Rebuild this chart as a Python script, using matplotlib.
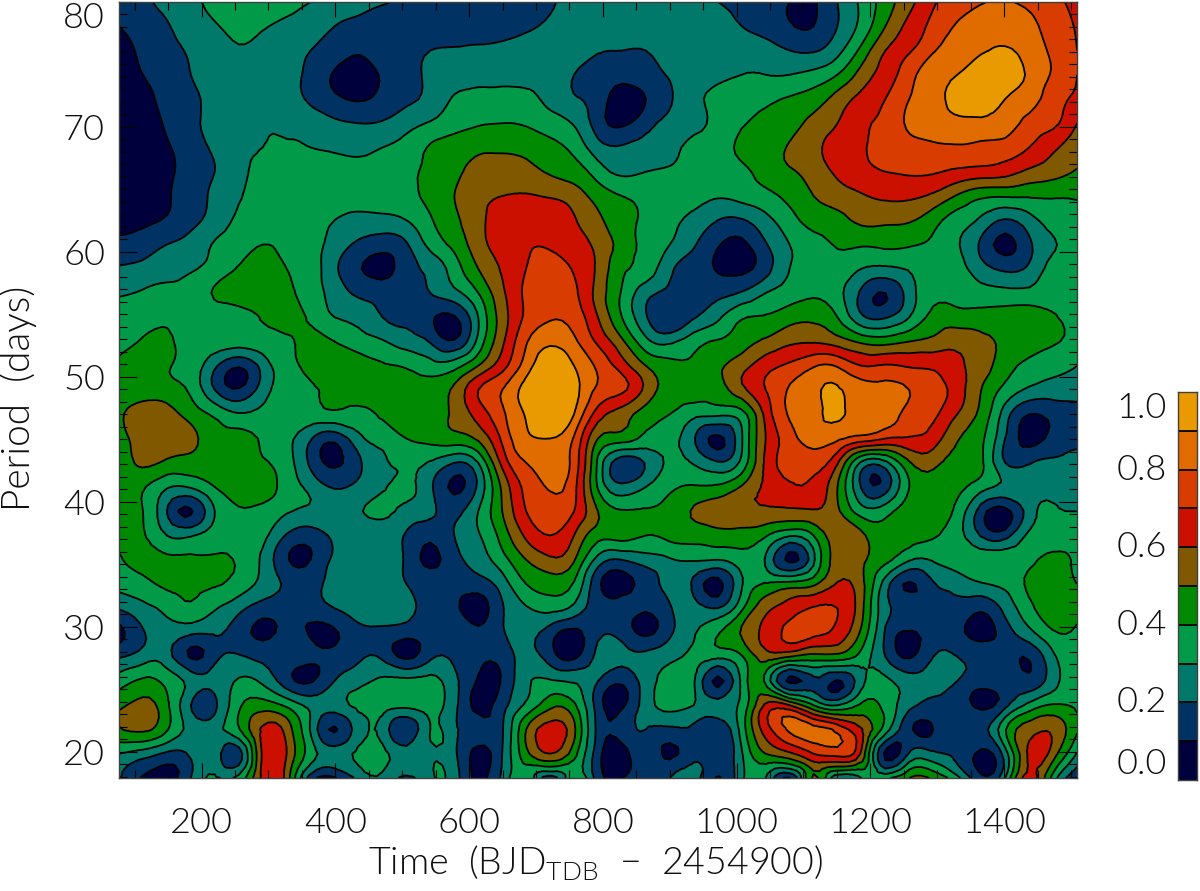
import numpy as np
import matplotlib
matplotlib.use('Agg')
import matplotlib.pyplot as plt
import matplotlib.tri as mtri
from matplotlib.ticker import MultipleLocator

plt.rcParams['font.family'] = ['Lato', 'DejaVu Sans']
plt.rcParams['mathtext.fontset'] = 'custom'
plt.rcParams['mathtext.rm'] = 'Lato:weight=300'

# grid of wavelet power, in percent, top row is period 80
power_pct = [
    [12,17,24,28,33,38,37,33,30,27,24,21,18,16,15,15,15,16,19,23,25,25,26,26,25,20,17,14,10,9,20,32,45,57,69,74,79,81,77,73,66],
    [10,14,19,25,29,33,31,28,25,20,17,15,14,14,14,14,15,18,22,25,25,25,26,27,27,26,20,16,11,10,20,33,50,63,73,81,86,88,83,76,69],
    [6,12,17,21,25,29,27,24,20,15,11,14,16,20,21,22,23,25,26,26,21,20,20,25,28,28,27,24,20,19,27,43,60,69,79,86,89,91,86,78,70],
    [4,10,15,20,24,26,26,24,17,9,6,11,16,22,25,27,27,27,26,20,14,14,16,21,26,28,30,30,30,33,40,54,65,76,87,90,97,98,88,79,70],
    [3,7,13,18,23,26,26,25,18,12,9,13,18,23,31,33,34,33,27,21,15,5,10,19,27,33,35,38,41,45,54,63,70,80,87,94,98,90,84,75,68],
    [3,6,11,17,24,27,29,28,26,22,20,21,26,31,36,39,40,39,35,29,15,8,16,23,27,33,39,42,46,53,60,68,73,82,86,87,87,85,77,72,60],
    [3,5,9,15,22,28,30,31,30,29,28,30,34,41,45,48,48,47,43,37,24,21,24,27,33,36,42,45,51,57,65,69,74,76,78,79,78,76,70,62,55],
    [3,4,8,14,20,27,33,34,34,33,33,34,38,42,48,53,55,53,49,45,35,28,30,31,34,37,38,44,49,54,62,67,70,71,71,68,66,64,58,54,49],
    [3,5,9,15,22,29,34,35,35,34,34,35,37,43,50,57,60,61,59,55,46,40,37,34,33,31,33,37,43,50,55,59,62,62,58,49,42,41,41,41,41],
    [6,8,11,17,24,32,35,36,33,30,27,27,30,39,48,57,65,68,68,61,52,44,38,33,27,20,19,27,36,44,47,52,52,51,44,35,28,19,26,34,37],
    [13,15,20,24,31,36,40,38,34,26,18,14,19,33,43,56,64,69,69,65,57,46,37,30,21,11,8,19,30,35,41,41,42,41,38,31,18,7,18,29,35],
    [21,23,26,29,34,41,45,40,35,22,11,7,15,23,35,50,61,70,75,69,58,42,36,22,15,9,8,16,30,33,36,30,28,31,35,34,24,18,22,34,35],
    [29,31,33,35,41,45,48,43,35,26,18,15,14,20,27,40,58,72,77,72,56,39,24,17,14,17,21,30,35,38,33,18,10,25,37,37,34,33,33,36,37],
    [34,36,38,38,36,37,41,45,38,30,27,20,18,12,9,30,55,72,79,76,60,40,21,10,19,28,39,41,46,48,40,22,19,30,43,44,44,45,45,41,37],
    [37,41,42,36,35,35,36,38,44,40,35,31,25,19,11,33,58,79,88,82,68,52,33,28,36,41,46,52,58,59,55,48,46,50,53,57,53,48,44,41,37],
    [41,43,41,35,22,11,24,36,43,46,44,41,39,34,36,50,66,85,97,90,78,65,50,43,42,48,56,66,72,79,79,70,71,69,68,62,55,44,38,34,30],
    [42,44,44,38,20,11,25,35,39,42,44,45,45,46,52,70,80,94,100,94,78,72,57,46,44,46,57,70,81,88,91,85,83,80,75,65,50,37,28,25,24],
    [47,57,55,46,38,31,33,33,36,38,37,42,47,46,52,64,78,91,100,90,65,55,45,40,33,32,36,63,81,88,91,88,85,77,72,60,47,25,10,13,16],
    [44,56,57,53,44,43,39,33,21,13,27,33,40,43,46,52,72,88,90,79,50,45,37,33,21,8,29,60,76,85,82,76,70,69,65,51,42,20,7,13,17],
    [42,52,48,46,44,43,41,34,18,8,18,29,31,29,20,30,63,80,86,76,38,14,21,32,29,21,33,62,73,74,61,28,27,49,53,47,42,20,19,22,24],
    [41,41,31,31,40,44,45,36,27,19,23,29,32,22,8,22,52,73,81,73,39,23,30,38,41,42,51,62,69,68,50,19,15,40,46,43,34,28,27,26,27],
    [42,40,20,9,30,39,37,31,28,26,29,32,27,22,17,30,50,70,76,70,50,41,41,44,51,55,57,58,58,59,52,35,36,46,46,37,15,7,25,31,30],
    [42,41,30,29,36,38,33,19,15,22,26,25,19,13,20,29,44,62,70,60,44,44,40,43,44,46,46,41,31,40,56,52,45,44,41,34,19,16,32,33,34],
    [39,43,42,41,41,39,28,11,10,22,26,27,18,8,16,25,36,50,58,51,26,20,25,29,31,30,36,29,8,28,55,52,43,31,31,35,36,37,38,43,37],
    [33,37,42,42,41,36,27,18,16,24,26,27,20,15,12,15,25,40,45,39,12,7,14,24,18,7,29,41,44,48,61,53,25,9,19,24,29,33,42,46,40],
    [21,27,33,38,31,23,15,14,15,20,26,28,24,16,12,6,19,29,33,27,15,13,11,19,24,20,38,57,65,71,70,53,23,17,15,17,12,23,37,47,43],
    [7,19,25,22,21,15,8,13,9,9,16,17,14,15,15,12,19,23,15,7,18,16,8,18,29,39,51,63,73,73,67,48,19,9,14,13,6,15,27,39,38],
    [19,25,24,9,17,21,17,15,12,13,18,18,8,18,18,12,14,23,15,8,23,23,23,28,32,32,39,55,50,46,46,36,20,9,20,20,17,15,11,28,36],
    [35,42,37,26,24,31,28,14,9,20,27,32,33,33,23,9,11,28,31,29,20,12,25,34,31,8,32,38,8,17,9,27,32,25,24,20,14,16,13,26,36],
    [48,53,42,20,18,38,45,38,27,25,32,34,33,34,23,7,16,32,47,42,15,8,25,33,30,24,33,62,60,40,30,42,37,23,17,15,8,17,33,41,38],
    [49,52,41,27,27,39,62,56,29,9,25,26,12,30,22,14,19,50,65,52,17,15,20,18,18,12,34,65,82,84,77,61,35,12,10,18,16,39,56,58,41],
    [30,25,18,22,25,15,62,60,35,25,32,33,25,29,22,7,20,47,60,44,14,5,17,8,17,13,29,50,58,70,74,58,8,21,22,17,8,25,62,55,29],
    [21,9,7,20,31,33,63,56,15,9,23,28,18,28,25,8,22,38,15,38,15,10,15,20,24,9,28,30,9,52,22,30,38,50,48,33,12,30,65,36,12],
]
time_min, time_max = 76.5, 1509.0
period_min, period_max = 17.9, 80.0

band_edges = [0.0, 0.1, 0.2, 0.3, 0.4, 0.5, 0.6, 0.7, 0.8, 0.9, 1.001]
band_colors = ['#00003c', '#003264', '#00786a', '#009a48', '#008a04',
               '#805800', '#cc1000', '#d83c00', '#e06c00', '#e89a00']
cbar_labels = ['0.0', '0.2', '0.4', '0.6', '0.8', '1.0']
x_ticks = [200, 400, 600, 800, 1000, 1200, 1400]
y_ticks = [20, 30, 40, 50, 60, 70, 80]

text_color = '#101010'
text_weight = 300
W, H = 1200.0, 891.0

power = np.array(power_pct) / 100.0
times = np.linspace(time_min, time_max, power.shape[1])
periods = np.linspace(period_max, period_min, power.shape[0])
tt, pp = np.meshgrid(times, periods)

# let matplotlib round the contours between the grid nodes
tri = mtri.Triangulation(tt.ravel(), pp.ravel())
refiner = mtri.UniformTriRefiner(tri)
tri_fine, power_fine = refiner.refine_field(power.ravel(), subdiv=2)
power_fine = np.clip(power_fine, 0.0, 1.0)

fig = plt.figure(figsize=(12, 8.91), dpi=100)
ax = fig.add_axes([119 / W, 1 - 778 / H, 958 / W, 776 / H])
ax.tricontourf(tri_fine, power_fine, levels=band_edges, colors=band_colors)
ax.tricontour(tri_fine, power_fine, levels=band_edges[1:-1], colors='black', linewidths=1.3)
ax.set_xlim(time_min, time_max)
ax.set_ylim(period_min, period_max)

ax.set_xticks(x_ticks)
ax.set_yticks(y_ticks)
ax.xaxis.set_minor_locator(MultipleLocator(50))
ax.yaxis.set_minor_locator(MultipleLocator(1))
ax.tick_params(axis='x', which='major', direction='in', length=11, width=0.8, top=True, labelsize=26, pad=21, labelcolor=text_color)
ax.tick_params(axis='x', which='minor', direction='in', length=5.5, width=0.8, top=True)
ax.tick_params(axis='y', which='major', direction='in', length=13, width=0.8, right=True, labelsize=26, pad=10, labelcolor=text_color)
ax.tick_params(axis='y', which='minor', direction='in', length=6, width=0.8, right=True)
for lab in ax.get_xticklabels() + ax.get_yticklabels():
    lab.set_fontweight(text_weight)
ax.get_yticklabels()[-1].set_verticalalignment('top')
for sp in ax.spines.values():
    sp.set_linewidth(1.0)
    sp.set_color('#404040')

fig.text(596 / W, 1 - 863 / H, r'Time  (BJD$_{\mathrm{TDB}}$  $-$  2454900)', fontsize=27,
         fontweight=text_weight, color=text_color, ha='center', va='center')
fig.text(18 / W, 1 - 398 / H, 'Period  (days)', fontsize=28, fontweight=text_weight,
         color=text_color, rotation=90, ha='center', va='center')

# colour bar on the right
cax = fig.add_axes([1178 / W, 1 - 780 / H, 19 / W, 388 / H])
bar_x = [0, 1]
cax.contourf(bar_x, band_edges, np.array([band_edges, band_edges]).T + 0.0005,
             levels=band_edges, colors=band_colors)
for edge in band_edges[1:-1]:
    cax.axhline(edge, color='black', linewidth=1.3)
cax.set_xlim(0, 1)
cax.set_ylim(0, 1)
cax.set_xticks([])
cax.set_yticks([])
for sp in cax.spines.values():
    sp.set_linewidth(1.0)
    sp.set_color('#404040')
for lab in cbar_labels:
    val = float(lab)
    va = 'bottom' if val == 0 else ('top' if val == 1 else 'center')
    cax.text(-0.6, val, lab, fontsize=26, fontweight=text_weight, color=text_color,
             ha='right', va=va)

fig.savefig('out.png', dpi=100)
